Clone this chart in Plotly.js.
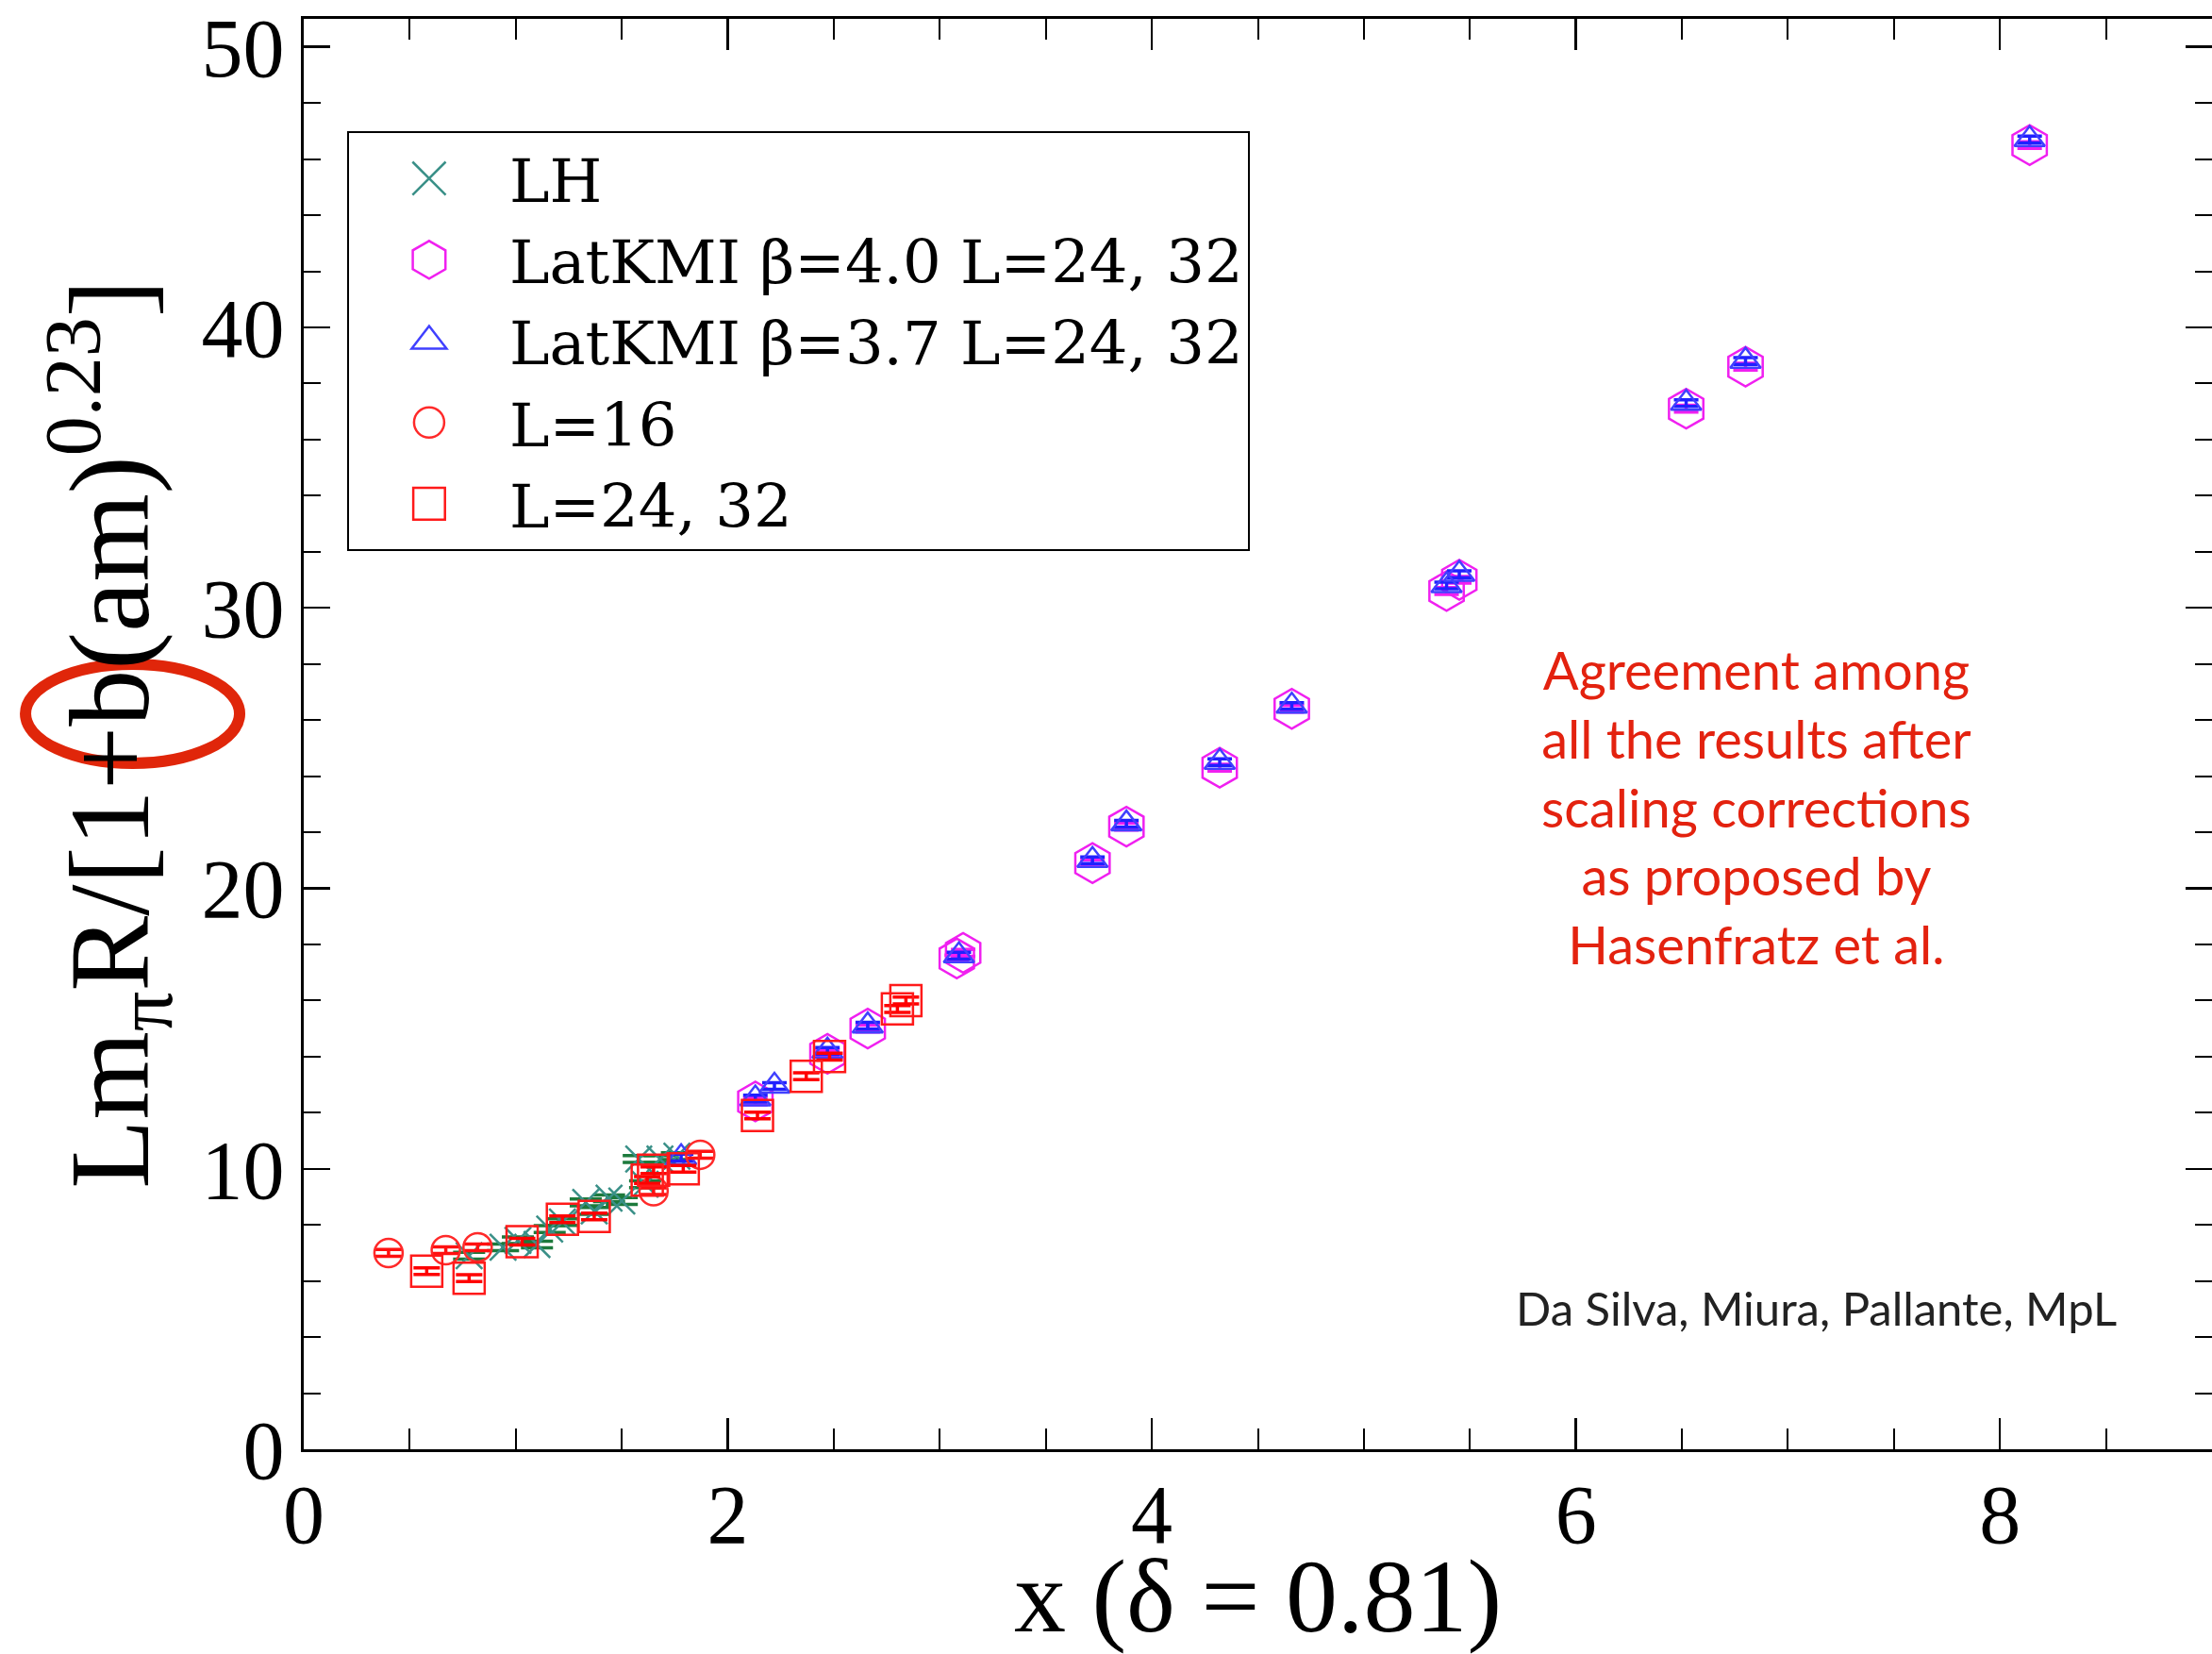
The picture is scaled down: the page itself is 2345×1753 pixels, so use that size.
<!DOCTYPE html>
<html><head><meta charset="utf-8">
<script src="https://cdn.plot.ly/plotly-3.0.1.min.js"></script>
<style>html,body{margin:0;padding:0;background:#fff;} #chart{width:2345px;height:1753px;}</style>
</head><body><div id="chart"></div>
<script>
// ---- data ----
const lhX = [0.78, 0.94, 1.01, 1.10, 1.16, 1.22, 1.33, 1.37, 1.44, 1.50, 1.58, 1.61, 1.68, 1.76];
const lhY = [6.9, 7.2, 7.45, 7.3, 7.85, 8.1, 8.8, 8.5, 8.95, 8.85, 10.35, 9.45, 10.35, 10.45];

const kmi40X = [2.13, 2.47, 2.66, 3.08, 3.11, 3.72, 3.88, 4.32, 4.66, 5.39, 5.45, 6.52, 6.80, 8.14];
const kmi40Y = [12.4, 14.1, 15.0, 17.5, 17.7, 20.9, 22.2, 24.3, 26.4, 30.6, 31.0, 37.1, 38.6, 46.5];

const kmi37X = [1.78, 2.13, 2.22, 2.47, 2.66, 3.09, 3.72, 3.88, 4.32, 4.66, 5.39, 5.45, 6.52, 6.80, 8.14];
const kmi37Y = [10.4, 12.5, 12.95, 14.2, 15.1, 17.6, 21.0, 22.3, 24.5, 26.5, 30.8, 31.2, 37.3, 38.8, 46.7];

const l16X = [0.40, 0.67, 0.82, 1.65, 1.87];
const l16Y = [7.0, 7.1, 7.2, 9.2, 10.5];

const l2432X = [0.58, 0.78, 1.03, 1.22, 1.37, 1.62, 1.65, 1.79, 2.14, 2.37, 2.48, 2.80, 2.84];
const l2432Y = [6.35, 6.1, 7.4, 8.2, 8.3, 9.6, 9.95, 10.0, 11.9, 13.3, 14.0, 15.7, 16.0];

const seriesNames = ['LH', 'LatKMI β=4.0 L=24, 32', 'LatKMI β=3.7 L=24, 32', 'L=16', 'L=24, 32'];
const gridVals = [10, 20, 30, 40];
const errSize = 0.12;

const note = 'Agreement among<br>all the results after<br>scaling corrections<br>as proposed by<br>Hasenfratz et al.';
const credit = 'Da Silva, Miura, Pallante, MpL';

function tr(x, y, name, symbol, size, color, errColor, capW) {
  return {
    type: 'scatter', mode: 'markers', x: x, y: y, name: name,
    marker: {symbol: symbol, size: size, color: color, line: {color: color, width: 2.5}},
    error_y: {type: 'constant', value: errSize, color: errColor, thickness: 3.5, width: capW},
    cliponaxis: false
  };
}

const traces = [
  tr(lhX, lhY, seriesNames[0], 'x-thin-open', 28, '#3a9088', '#1d7a3c', 17),
  tr(kmi40X, kmi40Y, seriesNames[1], 'hexagon-open', 42, '#f020f0', '#f020f0', 13),
  tr(kmi37X, kmi37Y, seriesNames[2], 'triangle-up-open', 28, '#4040ff', '#2020ff', 13),
  tr(l16X, l16Y, seriesNames[3], 'circle-open', 30, '#ff2a2a', '#ff1010', 14),
  tr(l2432X, l2432Y, seriesNames[4], 'square-open', 33, '#ff1a1a', '#ff0000', 14)
];
// legend symbol enlargement factors (Plotly caps legend marker size at 16 px)
const legendScale = [2.2, 2.5, 2.0, 2.0, 2.1];

const serif = 'Liberation Serif, DejaVu Serif, serif';

const layout = {
  width: 2345, height: 1753,
  paper_bgcolor: '#fff', plot_bgcolor: 'rgba(0,0,0,0)',
  margin: {l: 322, r: 0, t: 20, b: 217},
  showlegend: true,
  xaxis: {
    range: [0, 9], tick0: 0, dtick: 2,
    ticks: 'inside', ticklen: 33, tickwidth: 2.5, tickcolor: '#000',
    minor: {dtick: 0.5, ticks: 'inside', ticklen: 22, tickwidth: 2, tickcolor: '#000'},
    showline: true, linewidth: 3, linecolor: '#000', mirror: 'allticks',
    showgrid: false, zeroline: false, ticklabelstandoff: -10,
    tickfont: {family: serif, size: 88, color: '#000'},
    title: {text: 'x (δ = 0.81)', font: {family: serif, size: 110, color: '#000'}, standoff: 4}
  },
  yaxis: {
    range: [0, 51], tick0: 0, dtick: 10,
    ticks: 'inside', ticklen: 28, tickwidth: 2.5, tickcolor: '#000',
    minor: {dtick: 2, ticks: 'inside', ticklen: 18, tickwidth: 2, tickcolor: '#000'},
    showline: true, linewidth: 3, linecolor: '#000', mirror: 'allticks',
    showgrid: false, zeroline: false,
    tickfont: {family: serif, size: 88, color: '#000'},
    title: {text: 'Lm<sub>π</sub>R/[1+b(am)<sup>0.23</sup>]', font: {family: serif, size: 120, color: '#000'}, standoff: 16}
  },
  yaxis2: {
    overlaying: 'y', anchor: 'x', range: [0, 51],
    tickvals: gridVals, showticklabels: false, ticks: '',
    showgrid: true, gridcolor: '#bdbdbd', gridwidth: 2, griddash: 'dot',
    showline: false, zeroline: false
  },
  legend: {
    x: 0.0227, y: 0.9215, xanchor: 'left', yanchor: 'top',
    bgcolor: '#fff', bordercolor: '#000', borderwidth: 2,
    font: {family: 'DejaVu Serif, Liberation Serif, serif', size: 64, color: '#000'},
    itemwidth: 160, tracegroupgap: 0
  },
  annotations: [
    {x: 6.85, y: 22.9, xref: 'x', yref: 'y', text: note, showarrow: false, align: 'center',
     font: {family: 'Lato, Open Sans, sans-serif', size: 56, color: '#e3220f'}},
    {x: 7.135, y: 5.05, xref: 'x', yref: 'y', text: credit, showarrow: false,
     font: {family: 'Lato, Open Sans, sans-serif', size: 49, color: '#222'}}
  ],
  shapes: [
    {type: 'circle', xref: 'paper', yref: 'paper', x0: -0.1458, x1: -0.0336, y0: 0.4796, y1: 0.5488,
     line: {color: '#e0260a', width: 12}, layer: 'above'}
  ]
};

Plotly.newPlot('chart', traces, layout, {displayModeBar: false, staticPlot: true}).then(function (gd) {
  const items = gd.querySelectorAll('g.legend g.traces');
  items.forEach(function (item, i) {
    const s = legendScale[i] || 1;
    item.querySelectorAll('path.scatterpts').forEach(function (p) {
      const t = p.getAttribute('transform') || '';
      p.setAttribute('transform', t + ' scale(' + s + ')');
      p.style.strokeWidth = (2.5 / s) + 'px';
    });
  });
});
</script>
</body></html>
